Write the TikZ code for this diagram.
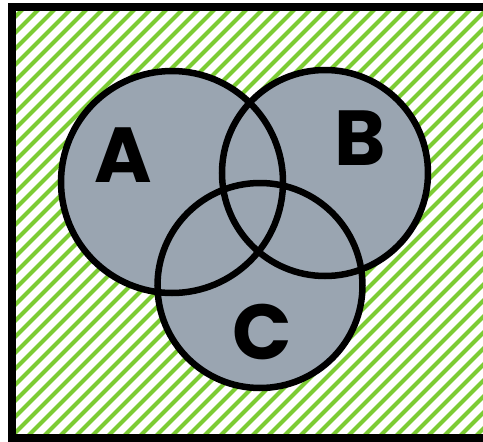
\documentclass[tikz,border=0pt]{standalone}
\usepackage{fontspec}
\setmainfont{Poppins}
\usetikzlibrary{backgrounds}
\definecolor{hatchgreen}{RGB}{124,204,52}
\definecolor{setgray}{RGB}{154,165,177}

\begin{document}
\begin{tikzpicture}[x=1pt, y=-1pt,
  set/.style={circle, draw, line width=6.5pt, inner sep=0pt},
  lab/.style={font=\fontsize{78}{78}\selectfont\bfseries},
  hatch/.style={hatchgreen, line width=4pt},
  frame/.style={line width=8pt}]
\useasboundingbox (0,0) rectangle (483,442);
% the three sets
\node[set, minimum size=222pt] (A) at (172,182) {};
\node[set, minimum size=206pt] (B) at (325,173) {};
\node[set, minimum size=205pt] (C) at (260,285.5) {};
\node[lab] (la) at (123,155) {A};
\node[lab] (lb) at (360,138) {B};
\node[lab] (lc) at (262,332) {C};
% hatched universe and set fills
\begin{scope}[on background layer]
  \begin{scope}
    \clip (12,6.5) rectangle (495,438);
    \foreach \k in {1,...,60}
      \draw[hatch] (16*\k,0) -- (16*\k-480,480);
  \end{scope}
  \fill[setgray] (A.center) circle[radius=111pt];
  \fill[setgray] (B.center) circle[radius=103pt];
  \fill[setgray] (C.center) circle[radius=102.5pt];
\end{scope}
\draw[frame] (12,6.5) rectangle (495,438);
\end{tikzpicture}
\end{document}
